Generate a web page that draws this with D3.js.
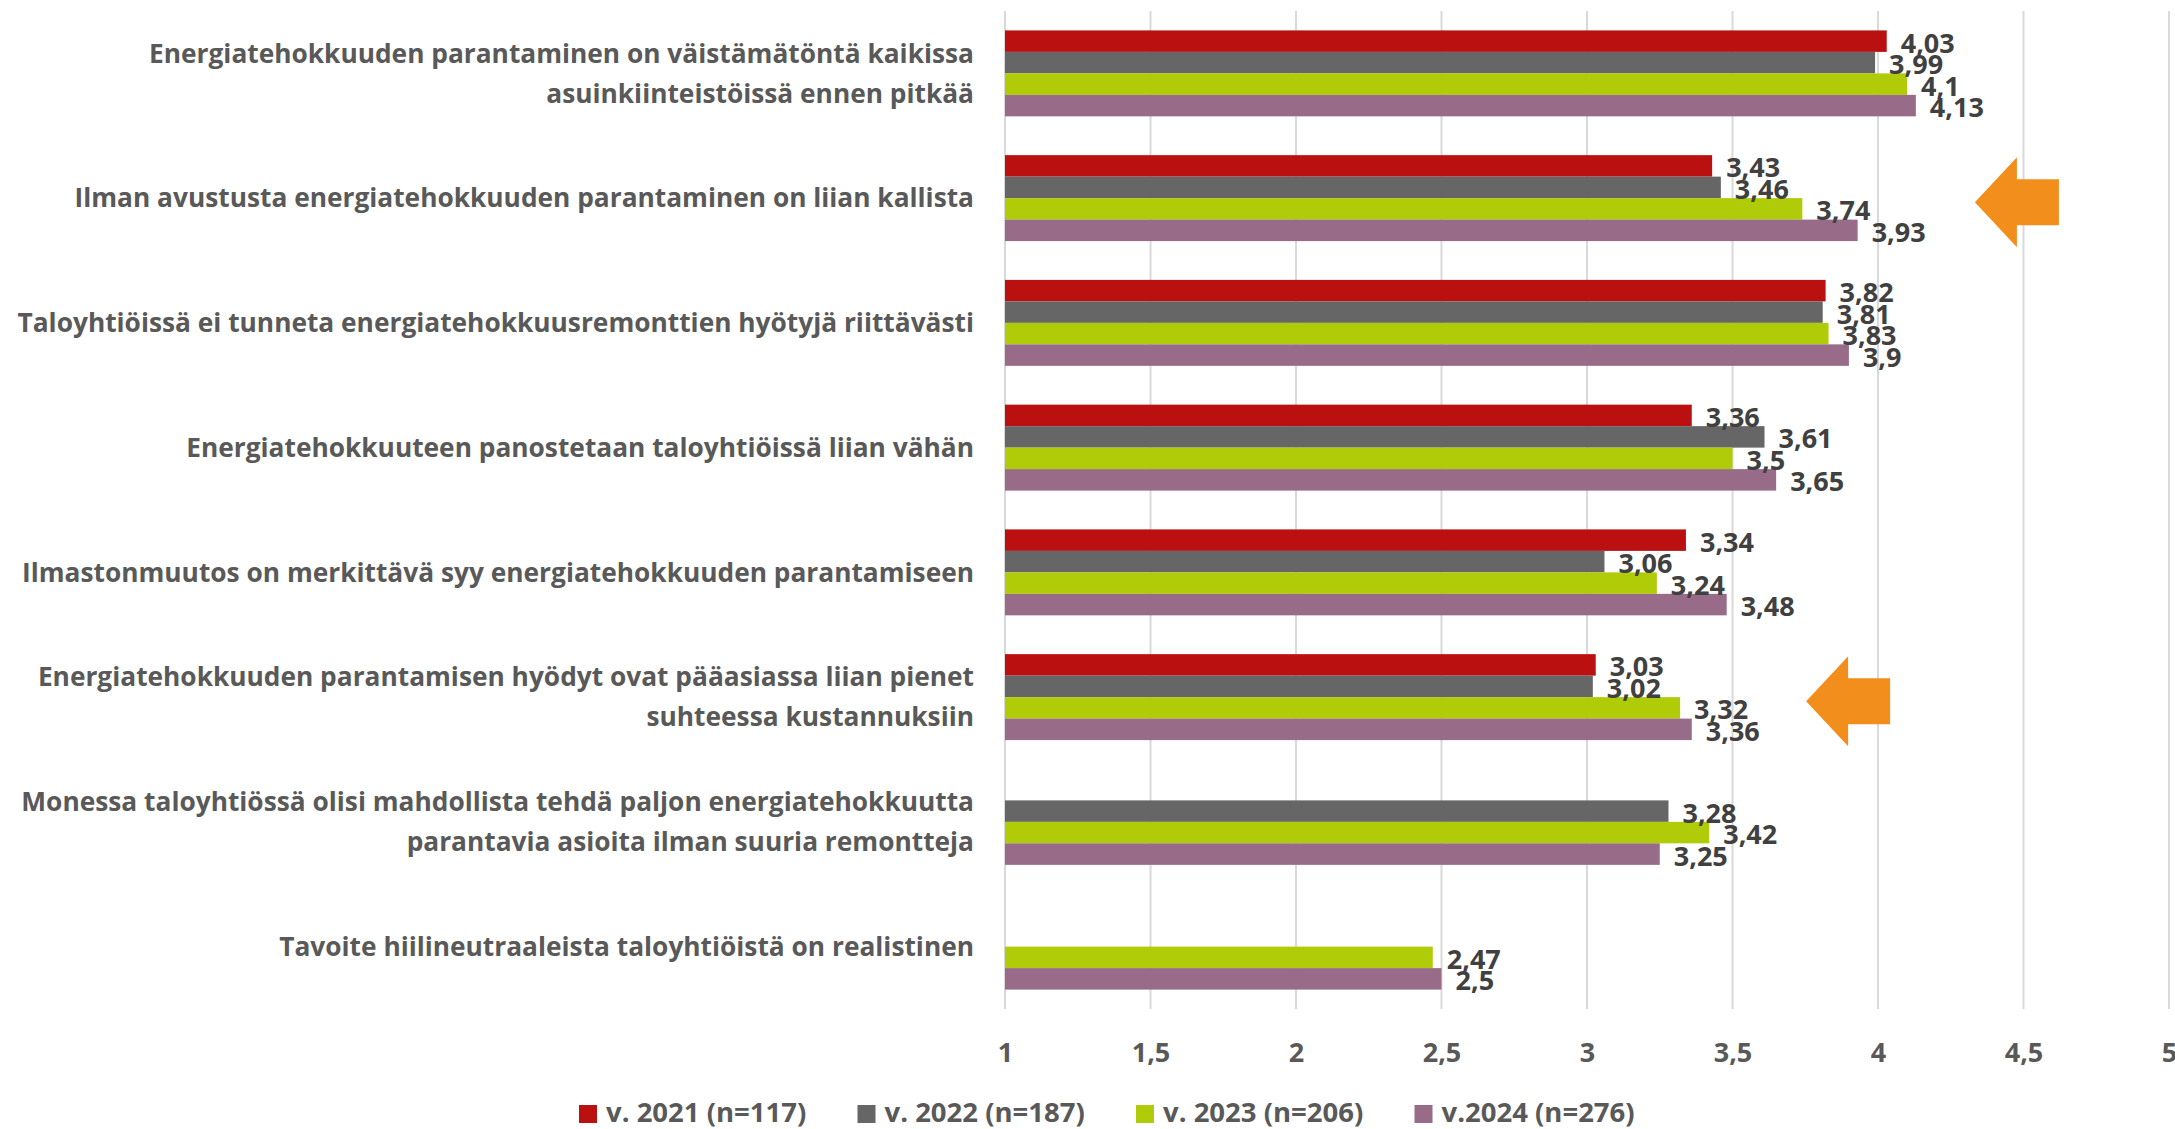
<!DOCTYPE html>
<html>
<head>
<meta charset="utf-8">
<script src="https://cdn.jsdelivr.net/npm/d3@7"></script>
<style>
  html, body { margin: 0; padding: 0; background: #fff; }
  svg { display: block; }
  text { font-family: "Open Sans", Lato, sans-serif; font-weight: bold; }
</style>
</head>
<body>
<svg id="chart" width="2175" height="1129"></svg>
<script>
// ---- data ----
const categories = [
  ["Energiatehokkuuden parantaminen on väistämätöntä kaikissa", "asuinkiinteistöissä ennen pitkää"],
  ["Ilman avustusta energiatehokkuuden parantaminen on liian kallista"],
  ["Taloyhtiöissä ei tunneta energiatehokkuusremonttien hyötyjä riittävästi"],
  ["Energiatehokkuuteen panostetaan taloyhtiöissä liian vähän"],
  ["Ilmastonmuutos on merkittävä syy energiatehokkuuden parantamiseen"],
  ["Energiatehokkuuden parantamisen hyödyt ovat pääasiassa liian pienet", "suhteessa kustannuksiin"],
  ["Monessa taloyhtiössä olisi mahdollista tehdä paljon energiatehokkuutta", "parantavia asioita ilman suuria remontteja"],
  ["Tavoite hiilineutraaleista taloyhtiöistä on realistinen"]
];
const seriesNames = ["v. 2021 (n=117)", "v. 2022 (n=187)", "v. 2023 (n=206)", "v.2024 (n=276)"];
const seriesColors = ["#BA1010", "#666666", "#B0CB08", "#986B88"];
const v2021 = [4.03, 3.43, 3.82, 3.36, 3.34, 3.03, null, null];
const v2022 = [3.99, 3.46, 3.81, 3.61, 3.06, 3.02, 3.28, null];
const v2023 = [4.1, 3.74, 3.83, 3.5, 3.24, 3.32, 3.42, 2.47];
const v2024 = [4.13, 3.93, 3.9, 3.65, 3.48, 3.36, 3.25, 2.5];
const tickValues = [1, 1.5, 2, 2.5, 3, 3.5, 4, 4.5, 5];
const tickLabels = ["1", "1,5", "2", "2,5", "3", "3,5", "4", "4,5", "5"];
// arrow annotations: category index and x value of arrow tip
const arrowCats = [1, 5];
const arrowTips = [4.333, 3.753];

const seriesValues = [v2021, v2022, v2023, v2024];

// ---- layout ----
const svg = d3.select("#chart");
const plotLeft = 1005, plotRight = 2169, plotTop = 11, plotBottom = 1009;

const x = d3.scaleLinear().domain([1, 5]).range([plotLeft, plotRight]);
const catIdx = d3.range(categories.length);
const y0 = d3.scaleBand().domain(catIdx).range([plotTop, plotBottom])
  .paddingInner(0.311).paddingOuter(0.1555);
const y1 = d3.scaleBand().domain(d3.range(seriesNames.length)).range([0, y0.bandwidth()]);

// gridlines
svg.append("g").selectAll("line").data(tickValues).join("line")
  .attr("x1", d => x(d)).attr("x2", d => x(d))
  .attr("y1", plotTop).attr("y2", plotBottom)
  .attr("stroke", "#D9D9D9").attr("stroke-width", 2);

// x axis tick labels
const xAxis = d3.axisBottom(x).tickValues(tickValues)
  .tickFormat((d, i) => tickLabels[i]).tickSize(0).tickPadding(0);
const ax = svg.append("g").attr("transform", `translate(0, 1053)`).call(xAxis);
ax.select(".domain").remove();
ax.selectAll("text").attr("dy", "0.35em").attr("fill", "#595959")
  .style("font-size", "27px").style("font-family", "'Open Sans', sans-serif").style("font-weight", "bold");

// bars
const groups = svg.append("g").selectAll("g").data(catIdx).join("g")
  .attr("transform", i => `translate(0, ${y0(i)})`);
groups.each(function(ci) {
  const g = d3.select(this);
  const vals = seriesValues.map((s, si) => ({ si, v: s[ci] })).filter(d => d.v != null);
  g.selectAll("rect").data(vals).join("rect")
    .attr("x", x(1))
    .attr("y", d => y1(d.si))
    .attr("width", d => x(d.v) - x(1))
    .attr("height", y1.bandwidth())
    .attr("fill", d => seriesColors[d.si]);
  g.selectAll("text.val").data(vals).join("text").attr("class", "val")
    .attr("x", d => x(d.v) + 14)
    .attr("y", d => y1(d.si) + y1.bandwidth() / 2 + 2)
    .attr("dy", "0.35em")
    .attr("fill", "#404040")
    .style("font-size", "27px")
    .text(d => String(d.v).replace(".", ","));
});

// category labels
const labels = svg.append("g").selectAll("text").data(catIdx).join("text")
  .attr("x", 974)
  .attr("text-anchor", "end")
  .attr("fill", "#595959")
  .style("font-size", "26.3px");
labels.each(function(ci) {
  const lines = categories[ci];
  const cy = y0(ci) + y0.bandwidth() / 2;
  const lh = 40;
  d3.select(this).selectAll("tspan").data(lines).join("tspan")
    .attr("x", 974)
    .attr("y", (d, k) => cy + (k - (lines.length - 1) / 2) * lh)
    .attr("dy", "0.35em")
    .text(d => d);
});

// arrows
const arrowG = svg.append("g");
arrowCats.forEach((ci, k) => {
  const tx = x(arrowTips[k]);
  const cy = y0(ci) + y0.bandwidth() / 2 + 4;
  const headLen = 42, headHalf = 45, shaftHalf = 23, totalLen = 84;
  const p = d3.path();
  p.moveTo(tx, cy);
  p.lineTo(tx + headLen, cy - headHalf);
  p.lineTo(tx + headLen, cy - shaftHalf);
  p.lineTo(tx + totalLen, cy - shaftHalf);
  p.lineTo(tx + totalLen, cy + shaftHalf);
  p.lineTo(tx + headLen, cy + shaftHalf);
  p.lineTo(tx + headLen, cy + headHalf);
  p.closePath();
  arrowG.append("path").attr("d", p.toString()).attr("fill", "#F28E1C");
});

// legend
const legendStart = 579, legendStep = 278.5, legendY = 1112;
const leg = svg.append("g").selectAll("g").data(seriesNames).join("g")
  .attr("transform", (d, i) => `translate(${legendStart + i * legendStep}, ${legendY})`);
leg.append("rect").attr("x", 0).attr("y", -7).attr("width", 18).attr("height", 18)
  .attr("fill", (d, i) => seriesColors[i]);
leg.append("text").attr("x", 27).attr("y", 0).attr("dy", "0.35em")
  .attr("fill", "#595959").style("font-size", "27.5px").text(d => d);
</script>
</body>
</html>
